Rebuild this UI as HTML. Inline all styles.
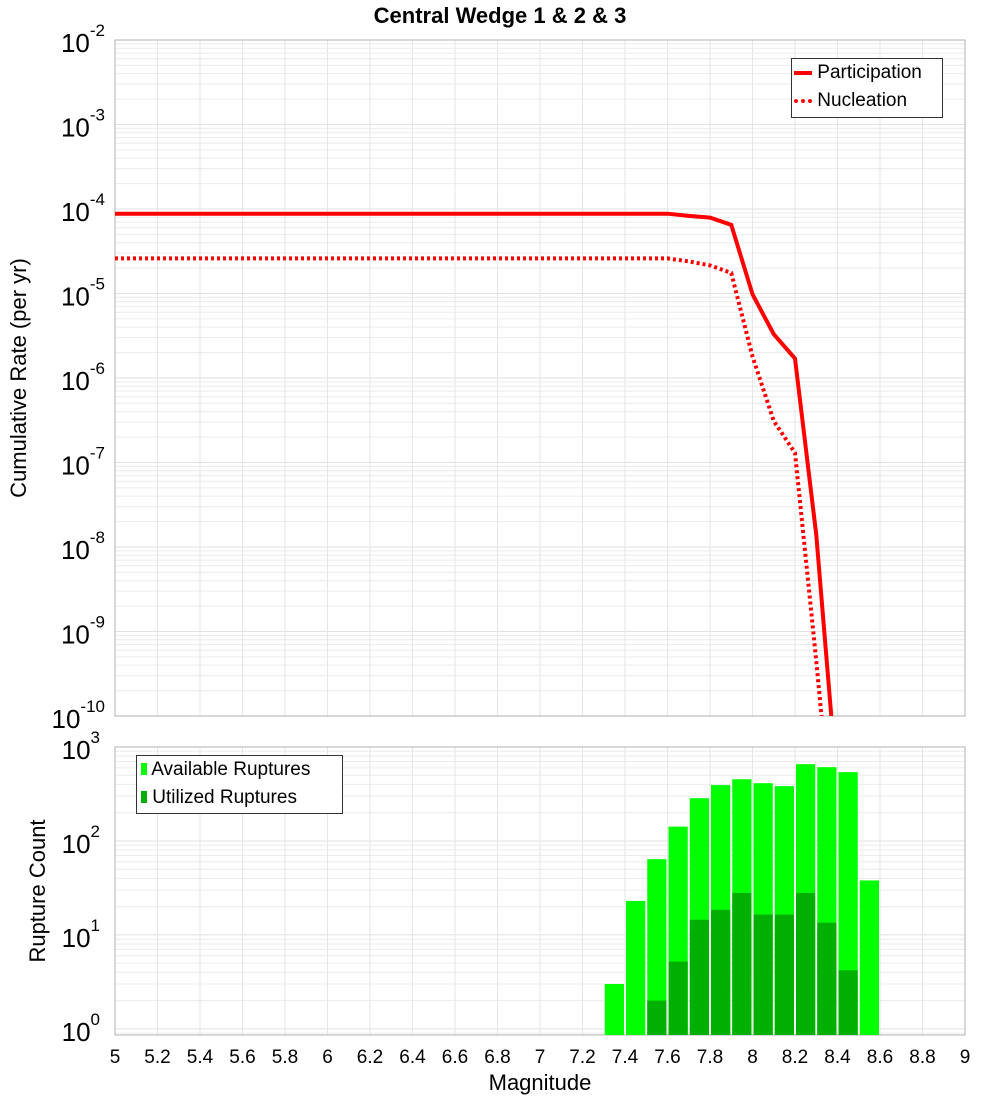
<!DOCTYPE html>
<html><head><meta charset="utf-8"><style>
body{margin:0;background:#fff}
svg{display:block;font-family:"Liberation Sans","DejaVu Sans",sans-serif}
</style></head><body>
<svg id="chart" width="1000" height="1100" viewBox="0 0 1000 1100">
<text x="500" y="23" text-anchor="middle" font-size="22" font-weight="bold">Central Wedge 1 &amp; 2 &amp; 3</text>
<g id="topPlot"></g>
<g id="botPlot"></g>
<text transform="translate(26,378) rotate(-90)" text-anchor="middle" font-size="22">Cumulative Rate (per yr)</text>
<text transform="translate(45,891) rotate(-90)" text-anchor="middle" font-size="22">Rupture Count</text>
<text x="540" y="1090" text-anchor="middle" font-size="22">Magnitude</text>
</svg>
<script>
const mags=[7.6,7.7,7.8,7.9,8.0,8.1,8.2,8.3,8.4];
const participation=[8.8e-5,8.3e-5,7.9e-5,6.5e-5,9.8e-6,3.3e-6,1.7e-6,1.4e-8,1.3e-11];
const nucleation=[2.6e-5,2.4e-5,2.15e-5,1.75e-5,1.8e-6,3.1e-7,1.3e-7,4.5e-10,1e-12];
const flatStart=5.0;
const binCenters=[7.35,7.45,7.55,7.65,7.75,7.85,7.95,8.05,8.15,8.25,8.35,8.45,8.55];
const available=[3,23,64,142,285,393,454,412,383,656,610,540,38];
const utilized=[0,0,2,5.2,14.5,18.5,28,16.5,16.5,28,13.5,4.2,0];
const xTicks=[5,5.2,5.4,5.6,5.8,6,6.2,6.4,6.6,6.8,7,7.2,7.4,7.6,7.8,8,8.2,8.4,8.6,8.8,9];

const NS="http://www.w3.org/2000/svg";
const svgRoot=document.getElementById('chart');
function mk(tag,attrs,parent){const e=document.createElementNS(NS,tag);for(const k in attrs)e.setAttribute(k,attrs[k]);(parent||svgRoot).appendChild(e);return e;}
const X0=115,X1=965;
const x=m=>X0+(m-5)/4*(X1-X0);
const T0=40,T1=716;
const yT=v=>T0+(-2-Math.log10(v))/8*(T1-T0);
const B0=747,B1=1035,BMIN=Math.log10(0.86);
const yB=v=>B0+(3-Math.log10(v))/(3-BMIN)*(B1-B0);
const gTop=document.getElementById('topPlot'),gBot=document.getElementById('botPlot');
const defs=mk('defs',{});
const cp=mk('clipPath',{id:'cpt'},defs);mk('rect',{x:X0,y:T0,width:X1-X0,height:T1-T0},cp);
const cpb=mk('clipPath',{id:'cpb'},defs);mk('rect',{x:X0,y:B0,width:X1-X0,height:B1-B0},cpb);

function grid(g,y,lo,hi,y0,y1){
  for(let d=lo;d<hi;d++){for(let k=1;k<10;k++){const v=k*Math.pow(10,d);const yy=y(v);if(yy<y0-0.5||yy>y1+0.5)continue;
    const l=mk('line',{x1:X0,x2:X1,y1:yy,y2:yy,stroke:k==1?'#e2e2e2':'#ececec','stroke-width':1},g);
    
    }}
  xTicks.forEach(t=>{const l=mk('line',{x1:x(t),x2:x(t),y1:y0,y2:y1,stroke:'#e6e6e6','stroke-width':1},g);
    
    });
}
grid(gTop,yT,-10,-1,T0,T1);
grid(gBot,yB,-1,3,B0,B1);
mk('rect',{x:X0,y:T0,width:X1-X0,height:T1-T0,fill:'none',stroke:'#b0b0b0'},gTop);
mk('rect',{x:X0,y:B0,width:X1-X0,height:B1-B0,fill:'none',stroke:'#b0b0b0'},gBot);

for(let e=-2;e>=-10;e--){const yy=yT(Math.pow(10,e));
  const t=mk('text',{x:105,y:yy+12,'text-anchor':'end','font-size':26},gTop);
  
  
  t.textContent='10';const s=mk('tspan',{dy:-16,'font-size':17},t);s.textContent=String(e);}
for(let e=3;e>=0;e--){const yy=yB(Math.pow(10,e));
  const t=mk('text',{x:100,y:yy+12,'text-anchor':'end','font-size':26},gBot);
  
  
  t.textContent='10';const s=mk('tspan',{dy:-16,'font-size':17},t);s.textContent=String(e);}
xTicks.forEach(tk=>{const t=mk('text',{x:x(tk),y:1063,'text-anchor':'middle','font-size':19},gBot);
  
  
  t.textContent=String(tk);});

function line(vals,dash,name){
  const pts=[[x(flatStart),yT(vals[0])]].concat(mags.map((m,i)=>[x(m),yT(vals[i])]));
  const p=mk('polyline',{points:pts.map(p=>p.join(',')).join(' '),fill:'none',stroke:'#ff0000','stroke-width':4,'clip-path':'url(#cpt)'},gTop);
  if(dash)p.setAttribute('stroke-dasharray','3,3');
  
  
}
line(participation,false,'participation-line');
line(nucleation,true,'nucleation-line');

const bw=(x(5.1)-x(5))-2;
binCenters.forEach((c,i)=>{
  if(available[i]>0){const r=mk('rect',{x:x(c)-bw/2,y:yB(available[i]),width:bw,height:B1-yB(available[i]),fill:'#00ff00','clip-path':'url(#cpb)'},gBot);
    
    }
  if(utilized[i]>0){const r=mk('rect',{x:x(c)-bw/2,y:yB(utilized[i]),width:bw,height:B1-yB(utilized[i]),fill:'#00b000','clip-path':'url(#cpb)'},gBot);
    
    }
});
</script>
<div style="position:absolute;left:791px;top:58px;width:150px;height:58px;border:1px solid #333;background:#fff;font:19px 'Liberation Sans',sans-serif">
 <div style="position:absolute;left:2px;top:3px;white-space:nowrap"><span style="display:inline-block;width:18px;border-top:4px solid #f00;vertical-align:middle"></span> Participation</div>
 <div style="position:absolute;left:2px;top:31px;white-space:nowrap"><span style="display:inline-block;width:18px;border-top:4px dotted #f00;vertical-align:middle"></span> Nucleation</div>
</div>
<div style="position:absolute;left:136px;top:755px;width:205px;height:57px;border:1px solid #333;background:#fff;font:19px 'Liberation Sans',sans-serif">
 <div style="position:absolute;left:4px;top:3px;white-space:nowrap"><span style="display:inline-block;width:6px;height:12px;background:#0f0"></span> Available Ruptures</div>
 <div style="position:absolute;left:4px;top:31px;white-space:nowrap"><span style="display:inline-block;width:6px;height:12px;background:#00b000"></span> Utilized Ruptures</div>
</div>
</body></html>
